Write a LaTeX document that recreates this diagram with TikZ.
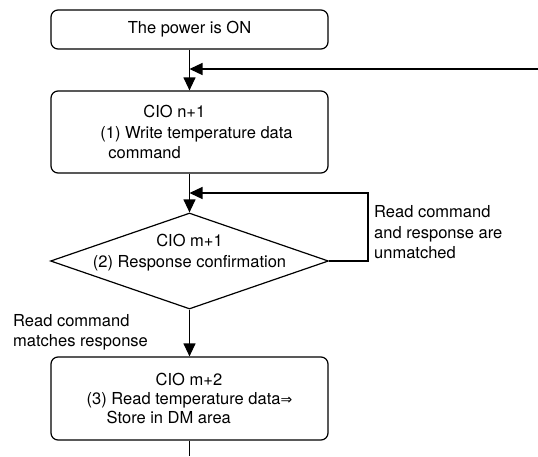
\documentclass[tikz,border=0pt]{standalone}
\usepackage{fontspec}
\setmainfont{TeX Gyre Heros}
\newfontfamily\arrowfont{DejaVu Sans}
\usetikzlibrary{shapes.geometric,arrows.meta}

\tikzset{
    box/.style={draw, line width=1.2pt, rounded corners=7pt, minimum width=277pt, align=left, inner sep=0pt},
    decision/.style={draw, diamond, line width=1.2pt, minimum width=278pt, minimum height=96pt, inner sep=0pt},
    arr/.style={line width=1.2pt, -{Triangle[length=13pt,width=12pt]}},
    plain/.style={line width=1.2pt},
    note/.style={align=left, inner sep=0pt}
}

\begin{document}
\begin{tikzpicture}[x=1pt,y=-1pt,font=\fontsize{16.5}{20.5}\selectfont]
    % Fix the size of the picture
    \useasboundingbox (0,0) rectangle (538,456);

    % Draw the steps
    \node[box, minimum height=39pt] (on) at (189.5,29.5) {The power is ON};
    \node[box, minimum height=82pt] (write) at (189.5,132) {\hspace*{57pt}CIO n+1\\\hspace*{14pt}(1) Write temperature data\\\hspace*{22pt}command};
    \node[decision] (check) at (189.5,261) {};
    \node[align=center] (checktxt) at (189.5,252.5) {CIO m+1\\(2) Response confirmation};
    \node[box, minimum height=83pt, font=\fontsize{16.5}{19}\selectfont] (read) at (189.5,398.5) {\hspace*{69pt}CIO m+2\\(3) Read temperature data{\arrowfont\fontsize{14}{14}\selectfont ⇒}\\\hspace*{20pt}Store in DM area};

    % Label the branches
    \node[note, anchor=west] (nomatch) at (374,232.5) {Read command\\and response are\\unmatched};
    \node[note, anchor=west] (match) at (13,332.5) {Read command\\matches response};

    % Draw the connectors
    \coordinate (back) at (538,69);
    \coordinate (retry) at (368,193);
    \coordinate (bottom) at (189.5,456);
    \draw[arr] (on.south) -- (write.north);
    \draw[arr] (back) -- (back -| on.south);
    \draw[arr] (write.south) -- (check.north);
    \draw[arr] (check.east) -| (retry) -- (retry -| check.north);
    \draw[arr] (check.south) -- (read.north);
    \draw[plain] (read.south) -- (bottom);

\end{tikzpicture}
\end{document}
